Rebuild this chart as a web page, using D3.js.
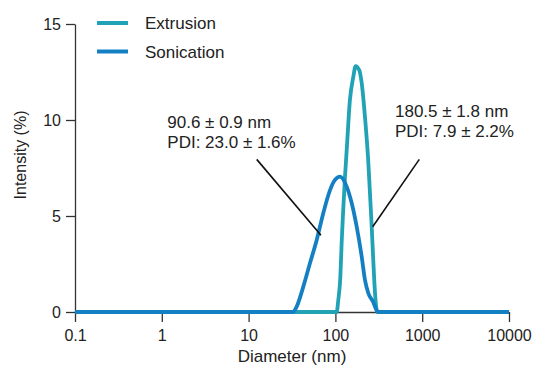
<!DOCTYPE html>
<html>
<head>
<meta charset="utf-8">
<script src="https://cdn.jsdelivr.net/npm/d3@7"></script>
<style>
  body { margin: 0; background: #fff; }
  text { font-family: "Liberation Sans", Arial, sans-serif; fill: #222; }
</style>
</head>
<body>
<div id="chart"></div>
<script>
// size distributions (diameter in nm, intensity in %)
var extrusionDiam = [0.1, 103.5, 108, 114, 118, 123, 129, 135, 147, 161, 171, 188, 201, 219, 239, 250, 262, 273, 286, 304, 10000];
var extrusionInt  = [0, 0, 0.63, 1.82, 3.59, 5.31, 7.05, 8.44, 11.04, 12.26, 12.81, 12.6, 11.91, 10.17, 7.86, 6.2, 4.44, 2.71, 0.99, 0, 0];

var sonicationDiam = [0.1, 32.5, 35.8, 42.7, 51.0, 60.9, 72.6, 86.7, 98.9, 113, 134.9, 154, 176, 201, 219, 239, 271, 310, 10000];
var sonicationInt  = [0, 0, 0.28, 1.32, 2.55, 3.75, 5.16, 6.35, 6.88, 7.05, 6.53, 5.68, 4.44, 2.88, 1.67, 0.99, 0.54, 0, 0];

var xTicks = [0.1, 1, 10, 100, 1000, 10000];
var yTicks = [0, 5, 10, 15];

var seriesNames = ["Extrusion", "Sonication"];
var seriesColors = ["#22a2b5", "#1480c3"];

var width = 533,
    height = 365,
    svg = d3.select("#chart").append("svg")
      .attr("width", width)
      .attr("height", height),
    x = d3.scaleLog().domain([0.1, 10000]).range([75, 509]),
    y = d3.scaleLinear().domain([0, 15]).range([312, 24]);

function rows(ds, vs) {
  return ds.map(function (d, i) { return { d: d, v: vs[i] }; });
}
var series = [rows(extrusionDiam, extrusionInt), rows(sonicationDiam, sonicationInt)];

// axes
var xAxis = svg.append("g")
  .attr("transform", "translate(0," + y(0) + ")")
  .call(d3.axisBottom(x).tickValues(xTicks).tickFormat(function (d) { return String(d); })
    .tickSize(10).tickSizeOuter(0).tickPadding(8));
var yAxis = svg.append("g")
  .attr("transform", "translate(" + x(0.1) + ",0)")
  .call(d3.axisLeft(y).tickValues(yTicks).tickSize(9).tickSizeOuter(0).tickPadding(5));

[xAxis, yAxis].forEach(function (a) {
  a.selectAll("path, line").attr("stroke", "#333").attr("stroke-width", 1.3);
  a.selectAll("text").style("font-size", "16px").attr("fill", "#222");
});

svg.append("text")
  .attr("x", 292).attr("y", 362)
  .attr("text-anchor", "middle")
  .style("font-size", "17px")
  .text("Diameter (nm)");

svg.append("text")
  .attr("transform", "translate(26,155) rotate(-90)")
  .attr("text-anchor", "middle")
  .style("font-size", "16px")
  .text("Intensity (%)");

// curves
var line = d3.line()
  .x(function (p) { return x(p.d); })
  .y(function (p) { return y(p.v); })
  .curve(d3.curveMonotoneX);

svg.selectAll(".curve")
  .data(series)
  .enter().append("path")
  .attr("class", "curve")
  .attr("d", line)
  .attr("fill", "none")
  .attr("stroke", function (d, i) { return seriesColors[i]; })
  .attr("stroke-width", 3.8)
  .attr("stroke-linejoin", "round");

// legend
var legend = svg.selectAll(".legend")
  .data(seriesNames)
  .enter().append("g")
  .attr("class", "legend")
  .attr("transform", function (d, i) { return "translate(97," + (23 + i * 28.5) + ")"; });
legend.append("line")
  .attr("x1", 0).attr("x2", 31)
  .attr("stroke", function (d, i) { return seriesColors[i]; })
  .attr("stroke-width", 4);
legend.append("text")
  .attr("x", 48).attr("y", 6)
  .style("font-size", "17px")
  .text(function (d) { return d; });

// peak annotations
var notes = [
  { lines: ["90.6 \u00b1 0.9 nm", "PDI: 23.0 \u00b1 1.6%"], tx: 1.157, ty: 9.57, from: [12.4, 7.95], to: [68.2, 4.0] },
  { lines: ["180.5 \u00b1 1.8 nm", "PDI: 7.9 \u00b1 2.2%"], tx: 486, ty: 10.14, from: [926, 7.95], to: [269, 4.44] }
];
notes.forEach(function (n) {
  svg.append("line")
    .attr("x1", x(n.from[0])).attr("y1", y(n.from[1]))
    .attr("x2", x(n.to[0])).attr("y2", y(n.to[1]))
    .attr("stroke", "#111").attr("stroke-width", 1.6);
  var t = svg.append("text")
    .attr("x", x(n.tx)).attr("y", y(n.ty))
    .style("font-size", "17px");
  n.lines.forEach(function (s, i) {
    t.append("tspan").attr("x", x(n.tx)).attr("dy", i ? 20 : 0).text(s);
  });
});
</script>
</body>
</html>
